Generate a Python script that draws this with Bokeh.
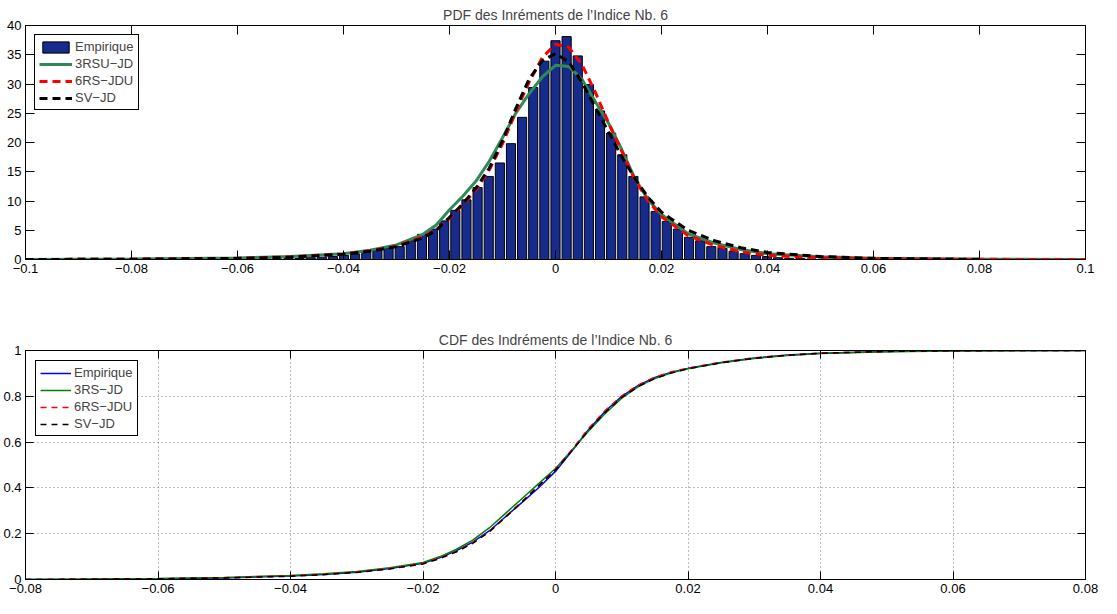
from bokeh.plotting import figure
from bokeh.models import (LinearAxis, FixedTicker, CustomJSTickFormatter, Legend,
                          LegendItem, Range1d, ColumnDataSource)
from bokeh.layouts import column
from bokeh.embed import file_html
from bokeh.resources import INLINE

# ---------------- data ----------------
pdf_title = "PDF des Inréments de l’Indice Nb. 6"
cdf_title = "CDF des Indréments de l’Indice Nb. 6"

pdf_xticks = [-0.1, -0.08, -0.06, -0.04, -0.02, 0.0, 0.02, 0.04, 0.06, 0.08, 0.1]
pdf_yticks = [0, 5, 10, 15, 20, 25, 30, 35, 40]
cdf_xticks = [-0.08, -0.06, -0.04, -0.02, 0.0, 0.02, 0.04, 0.06, 0.08]
cdf_yticks = [0, 0.2, 0.4, 0.6, 0.8, 1.0]

# histogram (empirical density)
hist_centers = [-0.0588, -0.0567, -0.0546, -0.0525, -0.0504, -0.0483, -0.0462, -0.0441,
                -0.042, -0.0399, -0.0378, -0.0357, -0.0336, -0.0315, -0.0294, -0.0273,
                -0.0252, -0.0231, -0.021, -0.0189, -0.0168, -0.0147, -0.0126, -0.0105,
                -0.0084, -0.0063, -0.0042, -0.0021, 0.0, 0.0021, 0.0042, 0.0063, 0.0084,
                0.0105, 0.0126, 0.0147, 0.0168, 0.0189, 0.021, 0.0231, 0.0252, 0.0273,
                0.0294, 0.0315, 0.0336, 0.0357, 0.0378, 0.0399, 0.042, 0.0441, 0.0462,
                0.0483, 0.0504, 0.0525]
hist_density = [0.05, 0.08, 0.1, 0.12, 0.15, 0.2, 0.3, 0.4, 0.5, 0.7,
                0.96, 1.2, 1.6, 2.0, 2.2, 3.2, 4.3, 5.2, 6.6, 8.4,
                10.2, 12.3, 14.2, 16.5, 19.8, 24.3, 29.4, 33.9,
                37.4, 38.1, 34.8, 29.9, 25.4, 21.6, 17.9, 14.2, 10.7, 8.2,
                6.5, 5.2, 3.8, 3.2, 2.2, 1.9, 1.4, 1.0, 0.7, 0.5,
                0.3, 0.2, 0.15, 0.1, 0.08, 0.05]
hist_bin = 0.0021

# model densities
pdf_x = [-0.1, -0.08, -0.06, -0.05, -0.04, -0.035, -0.03, -0.025, -0.0225, -0.02,
         -0.0175, -0.015, -0.0125, -0.01, -0.0075, -0.005, -0.0025, 0.0, 0.0025, 0.005,
         0.0075, 0.01, 0.0125, 0.015, 0.0175, 0.02, 0.025, 0.03, 0.035, 0.04,
         0.05, 0.06, 0.08, 0.1]
pdf_3rsu = [0.02, 0.08, 0.25, 0.5, 1.0, 1.6, 2.5, 4.3, 5.9, 8.5,
            10.8, 13.4, 16.8, 20.8, 25.0, 28.3, 31.2, 33.2, 33.0, 30.8,
            27.0, 23.3, 18.8, 13.8, 10.2, 7.7, 4.4, 2.8, 1.7, 1.0,
            0.45, 0.2, 0.05, 0.01]
pdf_6rs = [0.0, 0.05, 0.2, 0.45, 0.95, 1.5, 2.3, 3.9, 5.1, 7.0,
           9.3, 11.9, 15.3, 19.8, 25.2, 30.3, 34.5, 36.8, 36.3, 33.3,
           28.6, 23.4, 18.5, 13.6, 10.0, 7.3, 4.1, 2.4, 1.3, 0.7,
           0.3, 0.12, 0.03, 0.0]
pdf_sv_x = pdf_x[:-1]
pdf_sv = [0.0, 0.05, 0.18, 0.4, 0.9, 1.4, 2.2, 3.7, 5.0, 7.2,
          9.5, 12.2, 15.6, 20.3, 25.8, 30.8, 34.0, 35.2, 33.8, 30.3,
          26.0, 21.8, 17.6, 13.8, 10.6, 8.1, 5.0, 3.2, 2.0, 1.2,
          0.5, 0.2, 0.03]

# cumulative distributions
cdf_x = [-0.08, -0.07, -0.06, -0.05, -0.04, -0.035, -0.03, -0.025, -0.02, -0.0175,
         -0.015, -0.0125, -0.01, -0.0075, -0.005, -0.0025, 0.0, 0.0025, 0.005, 0.0075,
         0.01, 0.0125, 0.015, 0.0175, 0.02, 0.025, 0.03, 0.035, 0.04, 0.05,
         0.06, 0.07, 0.08]
cdf_emp = [0.0, 0.001, 0.003, 0.007, 0.015, 0.022, 0.032, 0.048, 0.071, 0.095,
           0.125, 0.163, 0.212, 0.275, 0.338, 0.402, 0.472, 0.562, 0.655, 0.735,
           0.800, 0.848, 0.882, 0.905, 0.922, 0.948, 0.967, 0.980, 0.988, 0.996,
           0.999, 1.0, 1.0]
cdf_3rs = [0.0, 0.002, 0.004, 0.009, 0.017, 0.025, 0.035, 0.051, 0.074, 0.099,
           0.131, 0.172, 0.225, 0.29, 0.355, 0.42, 0.485, 0.565, 0.648, 0.725,
           0.792, 0.842, 0.878, 0.903, 0.92, 0.946, 0.965, 0.978, 0.987, 0.995,
           0.998, 0.999, 1.0]
cdf_6rs = [0.0, 0.001, 0.003, 0.008, 0.016, 0.023, 0.033, 0.049, 0.071, 0.094,
           0.123, 0.161, 0.21, 0.276, 0.342, 0.41, 0.48, 0.568, 0.66, 0.738,
           0.802, 0.85, 0.884, 0.907, 0.923, 0.949, 0.968, 0.98, 0.988, 0.996,
           0.999, 1.0, 1.0]
cdf_sv = [0.0, 0.001, 0.003, 0.007, 0.014, 0.021, 0.031, 0.046, 0.068, 0.091,
          0.12, 0.158, 0.208, 0.273, 0.34, 0.41, 0.478, 0.563, 0.652, 0.73,
          0.795, 0.843, 0.878, 0.902, 0.92, 0.946, 0.966, 0.979, 0.988, 0.996,
          0.999, 1.0, 1.0]

# ---------------- styling helpers ----------------
FONT = "Liberation Sans"
FS = "13px"
TITLE_FS = "14px"
TICK_JS = "return Number(tick.toFixed(4)).toString().replace('-', '\u2212');"


def style_axes(p, xt, yt, tick_len, grid):
    p.title.align = "center"
    p.title.text_font = FONT
    p.title.text_font_size = TITLE_FS
    p.title.text_font_style = "normal"
    p.title.standoff = 5
    p.outline_line_color = "black"
    p.outline_line_alpha = 1
    p.background_fill_color = "white"
    p.border_fill_color = "white"
    for ax, ticks in ((p.xaxis[0], xt), (p.yaxis[0], yt)):
        ax.ticker = FixedTicker(ticks=ticks)
        ax.formatter = CustomJSTickFormatter(code=TICK_JS)
        ax.major_tick_in = tick_len
        ax.major_tick_out = 0
        ax.minor_tick_line_color = None
        ax.major_tick_line_color = "black"
        ax.axis_line_color = "black"
        ax.major_label_text_font = FONT
        ax.major_label_text_font_size = FS
        ax.major_label_text_color = "black"
        ax.major_label_standoff = 4
    # mirrored ticks (box on)
    for loc, ticks in (("above", xt), ("right", yt)):
        ax = LinearAxis(ticker=FixedTicker(ticks=ticks),
                        major_tick_in=tick_len, major_tick_out=0,
                        minor_tick_line_color=None,
                        major_tick_line_color="black", axis_line_color="black",
                        major_label_text_color=None,
                        major_label_text_font_size="0px",
                        major_label_standoff=0)
        p.add_layout(ax, loc)
    if grid:
        p.xgrid.ticker = FixedTicker(ticks=xt)
        p.ygrid.ticker = FixedTicker(ticks=yt)
        for g in (p.xgrid, p.ygrid):
            g.grid_line_color = "#7a7a7a"
            g.grid_line_dash = "1 3"
            g.grid_line_width = 1
    else:
        p.xgrid.grid_line_color = None
        p.ygrid.grid_line_color = None


def style_legend(lg, glyph_w):
    lg.location = "top_left"
    lg.margin = 9
    lg.border_line_color = "black"
    lg.border_line_width = 1
    lg.border_line_alpha = 1
    lg.background_fill_color = "white"
    lg.background_fill_alpha = 1
    lg.label_text_font = FONT
    lg.label_text_font_size = FS
    lg.glyph_width = glyph_w
    lg.glyph_height = 14
    lg.label_height = 14
    lg.label_standoff = 3
    lg.spacing = 2
    lg.padding = 4


# ---------------- PDF panel ----------------
p1 = figure(width=1101, height=310, x_range=Range1d(-0.1, 0.1), y_range=Range1d(0, 40),
            output_backend="svg", toolbar_location=None, title=pdf_title,
            min_border_left=22, min_border_right=16, min_border_top=25,
            min_border_bottom=51)
style_axes(p1, pdf_xticks, pdf_yticks, 9, grid=False)

hist_src = ColumnDataSource(dict(x=hist_centers, top=hist_density))
r_bar = p1.vbar(x="x", top="top", bottom=0, width=hist_bin * 0.82, source=hist_src,
                fill_color="#172b8c", line_color="black", line_width=1)
r_g = p1.line(pdf_x, pdf_3rsu, line_color="#2e8b57", line_width=3)
r_r = p1.line(pdf_x, pdf_6rs, line_color="#ff0000", line_width=3, line_dash="8 5")
r_k = p1.line(pdf_sv_x, pdf_sv, line_color="black", line_width=3, line_dash="8 5")

lg1 = Legend(items=[LegendItem(label="Empirique", renderers=[r_bar]),
                    LegendItem(label="3RSU\u2212JD", renderers=[r_g]),
                    LegendItem(label="6RS\u2212JDU", renderers=[r_r]),
                    LegendItem(label="SV\u2212JD", renderers=[r_k])])
style_legend(lg1, 33)
p1.add_layout(lg1)

# ---------------- CDF panel ----------------
p2 = figure(width=1101, height=288, x_range=Range1d(-0.08, 0.08), y_range=Range1d(0, 1),
            output_backend="svg", toolbar_location=None, title=cdf_title,
            min_border_left=23, min_border_right=16, min_border_top=40,
            min_border_bottom=19)
style_axes(p2, cdf_xticks, cdf_yticks, 8, grid=True)

c_b = p2.line(cdf_x, cdf_emp, line_color="#0000ff", line_width=1.5)
c_g = p2.line(cdf_x, cdf_3rs, line_color="#008000", line_width=1.5)
c_r = p2.line(cdf_x, cdf_6rs, line_color="#ff0000", line_width=1.5, line_dash="6 5")
c_k = p2.line(cdf_x, cdf_sv, line_color="black", line_width=1.5, line_dash="6 5")

lg2 = Legend(items=[LegendItem(label="Empirique", renderers=[c_b]),
                    LegendItem(label="3RS\u2212JD", renderers=[c_g]),
                    LegendItem(label="6RS\u2212JDU", renderers=[c_r]),
                    LegendItem(label="SV\u2212JD", renderers=[c_k])])
style_legend(lg2, 31)
lg2.margin = 10
p2.add_layout(lg2)

layout = column(p1, p2)
open("out.html", "w").write(file_html(layout, INLINE))
